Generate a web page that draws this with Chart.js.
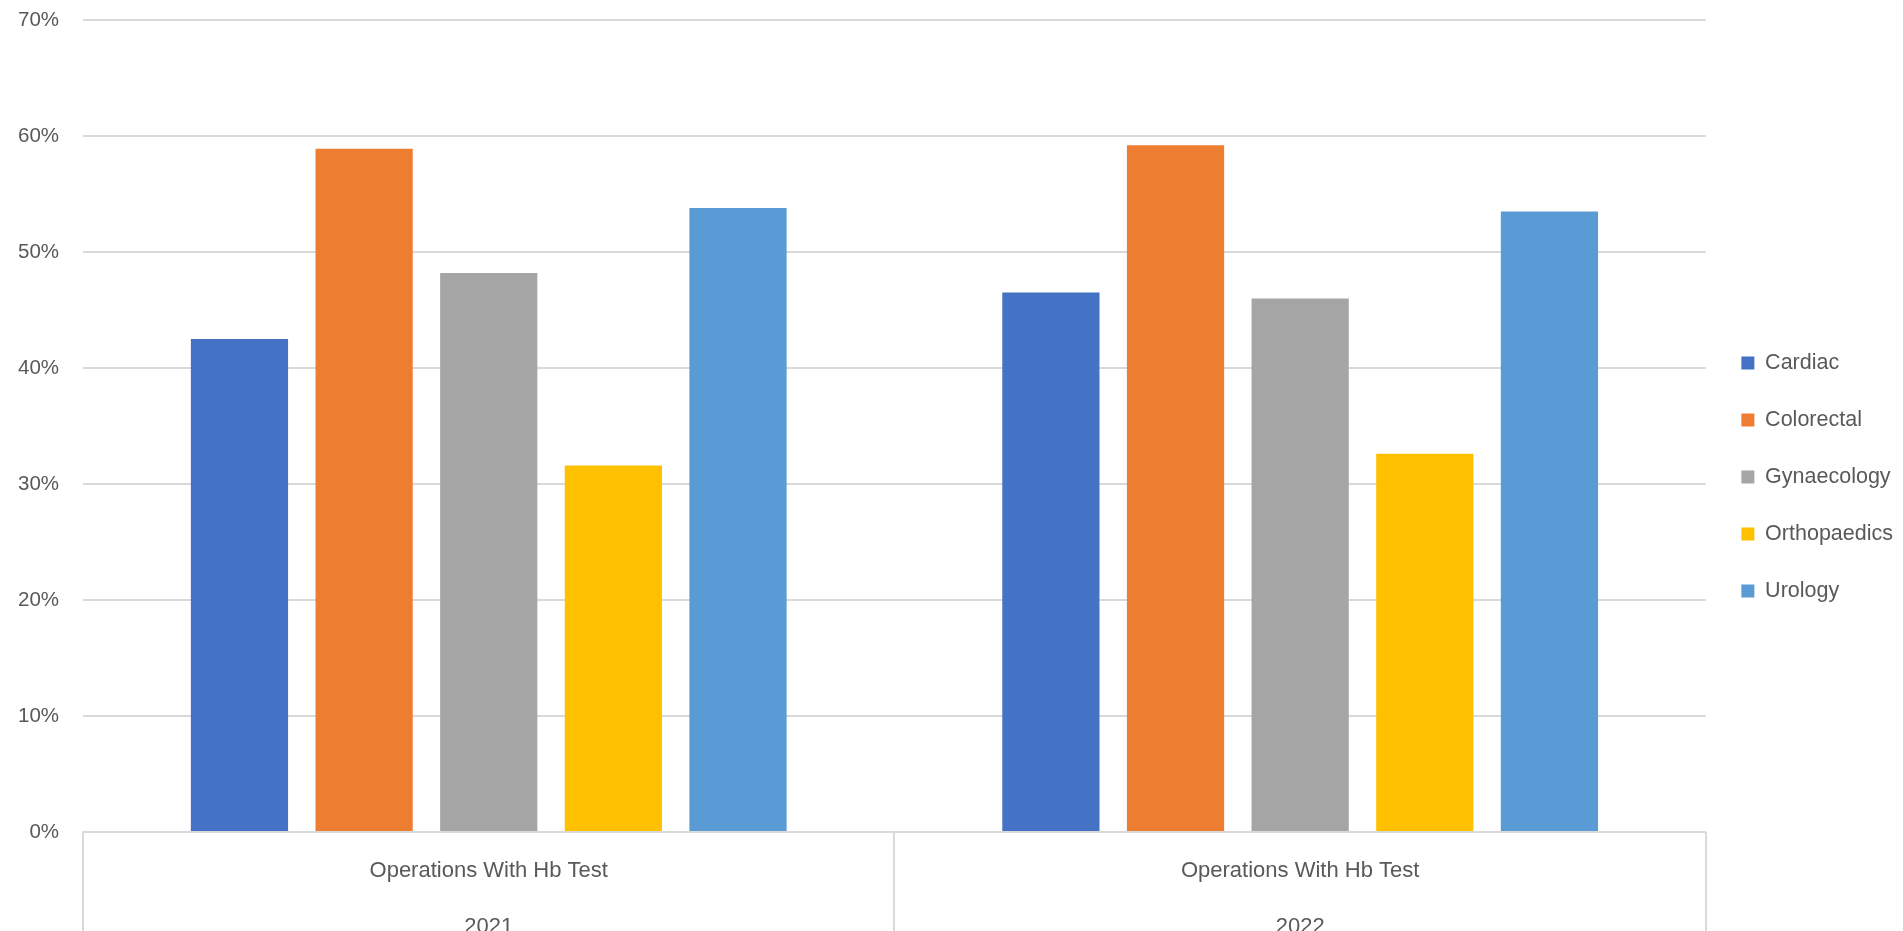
<!DOCTYPE html>
<html>
<head>
<meta charset="utf-8">
<script src="https://cdn.jsdelivr.net/npm/chart.js@4"></script>
<style>
    html, body { margin: 0; padding: 0; background: #fff; overflow: hidden; }
    #wrap { position: relative; width: 1903px; height: 966px; }
</style>
</head>
<body>
<div id="wrap"><canvas id="hb-chart"></canvas></div>
<script>
// category labels (two-level axis: measure / year)
const groupLabel = 'Operations With Hb Test';
const years = ['2021', '2022'];

// share of operations with an Hb test, per specialty (%)
const cardiac = [42.5, 46.5];
const colorectal = [58.9, 59.2];
const gynaecology = [48.2, 46.0];
const orthopaedics = [31.6, 32.6];
const urology = [53.8, 53.5];

const yTicks = [0, 10, 20, 30, 40, 50, 60, 70];

const seriesNames = ['Cardiac', 'Colorectal', 'Gynaecology', 'Orthopaedics', 'Urology'];
const seriesValues = [cardiac, colorectal, gynaecology, orthopaedics, urology];
const seriesColors = ['#4472C4', '#ED7D31', '#A5A5A5', '#FFC000', '#5B9BD5'];

const textColor = '#595959';
const lineColor = '#d9d9d9';
const fontFamily = '"Liberation Sans", Arial, sans-serif';

const hbData = {
    labels: years.map(y => [groupLabel, y]),
    datasets: seriesNames.map((name, i) => ({
        label: name,
        data: seriesValues[i],
        backgroundColor: seriesColors[i],
        borderWidth: 0,
        categoryPercentage: 0.768,
        barPercentage: 0.78,
    })),
};

// vertical separators of the category table below the axis
const categoryDividers = {
    id: 'categoryDividers',
    afterDraw(chart) {
        const x = chart.scales.x;
        const ctx = chart.ctx;
        ctx.save();
        ctx.strokeStyle = lineColor;
        ctx.lineWidth = 2;
        for (let i = 0; i <= x.ticks.length; i++) {
            const px = Math.round(x.getPixelForValue(i - 0.5));
            ctx.beginPath();
            ctx.moveTo(px, x.top);
            ctx.lineTo(px, chart.height);
            ctx.stroke();
        }
        ctx.restore();
    }
};

const config = {
    type: 'bar',
    data: hbData,
    options: {
        responsive: true,
        maintainAspectRatio: false,
        animation: false,
        layout: {
            padding: { left: -6, top: -12, right: 0, bottom: 0 }
        },
        plugins: {
            legend: {
                position: 'right',
                labels: {
                    boxWidth: 13,
                    boxHeight: 13,
                    padding: 35.5,
                    color: textColor,
                    font: { family: fontFamily, size: 21.5 },
                },
            },
            tooltip: { enabled: false },
        },
        scales: {
            x: {
                grid: {
                    offset: true,
                    display: false,
                    drawTicks: false,
                },
                border: { display: true, color: lineColor, width: 2 },
                ticks: {
                    color: textColor,
                    padding: 11,
                    font: { family: fontFamily, size: 22, lineHeight: 2.545 },
                },
            },
            y: {
                min: 0,
                max: 70,
                afterBuildTicks: axis => {
                    axis.ticks = yTicks.map(v => ({ value: v }));
                },
                afterFit: axis => {
                    axis.paddingTop = 20;
                    axis.paddingBottom = 0;
                },
                grid: {
                    drawTicks: false,
                    color: lineColor,
                    lineWidth: 2,
                },
                border: { display: false },
                ticks: {
                    color: textColor,
                    padding: 24,
                    font: { family: fontFamily, size: 20.5 },
                    callback: v => v + '%',
                },
            },
        },
    },
    plugins: [categoryDividers],
};

new Chart(document.getElementById('hb-chart'), config);
</script>
</body>
</html>
